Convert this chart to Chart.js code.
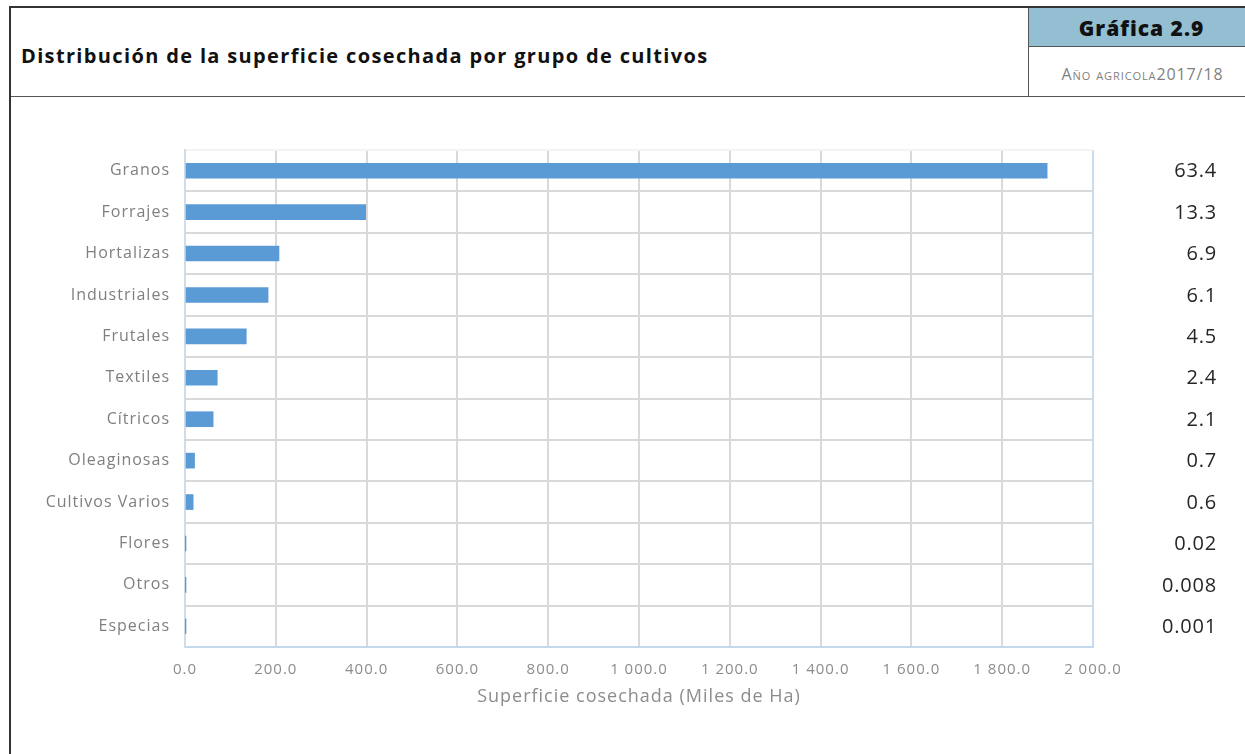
<!DOCTYPE html>
<html>
<head>
<meta charset="utf-8">
<script src="https://cdn.jsdelivr.net/npm/chart.js@4.4.0/dist/chart.umd.min.js"></script>
<style>
  html, body { margin:0; padding:0; background:#fff; }
  body { width:1245px; height:754px; position:relative; overflow:hidden; font-family:"Open Sans", sans-serif; }
  #frame { position:absolute; left:9px; top:6px; width:1236px; height:748px; border-left:2px solid #333; border-top:2px solid #333; box-sizing:border-box; }
  #hdr { position:absolute; left:11px; top:8px; width:1234px; height:88px; border-bottom:1.5px solid #555; }
  #title { position:absolute; left:10px; top:34px; font-size:20px; font-weight:700; color:#111; letter-spacing:1.35px; }
  #side { position:absolute; left:1017px; top:0; width:217px; height:88px; border-left:1.5px solid #555; }
  #badge { position:absolute; left:0; top:0; width:217px; height:39px; background:#94bfd3; border-bottom:1.5px solid #555; text-align:center; line-height:40px; font-size:21px; font-weight:800; color:#111; letter-spacing:1px; padding-left:8px; box-sizing:border-box; }
  #sub { position:absolute; left:0; top:55px; width:217px; text-align:center; font-size:16px; color:#7f7f7f; font-variant:small-caps; letter-spacing:0.9px; padding-left:10px; box-sizing:border-box; }
  #wrap { position:absolute; left:10px; top:97px; width:1235px; height:657px; }
</style>
</head>
<body>
<div id="frame"></div>
<div id="hdr">
  <div id="title">Distribución de la superficie cosechada por grupo de cultivos</div>
  <div id="side">
    <div id="badge">Gráfica 2.9</div>
    <div id="sub">Año agricola2017/18</div>
  </div>
</div>
<div id="wrap"><canvas id="c"></canvas></div>
<script>
const categories = ["Granos","Forrajes","Hortalizas","Industriales","Frutales","Textiles","Cítricos","Oleaginosas","Cultivos Varios","Flores","Otros","Especias"];
const superficie = [1899, 398, 207, 183, 135, 71, 62, 21, 18, 0.6, 0.24, 0.03];
const porcentajes = ["63.4","13.3","6.9","6.1","4.5","2.4","2.1","0.7","0.6","0.02","0.008","0.001"];
const xTicks = [0,200,400,600,800,1000,1200,1400,1600,1800,2000];

function fmt(v){
  const s = Number(v).toFixed(1);
  const [i,d] = s.split(".");
  return i.replace(/\B(?=(\d{3})+(?!\d))/g, " ") + "." + d;
}

const spacingPlugin = {
  id:'spacing',
  beforeDraw(chart){ chart.ctx.letterSpacing = '1px'; }
};

const pctPlugin = {
  id:'pct',
  afterDraw(chart){
    const ctx = chart.ctx, y = chart.scales.y;
    ctx.save();
    ctx.letterSpacing = '0.8px';
    ctx.font = '20px "Open Sans", sans-serif';
    ctx.fillStyle = '#262626';
    ctx.textAlign = 'right';
    ctx.textBaseline = 'middle';
    porcentajes.forEach((p,i)=>{
      ctx.fillText(p, 1207, y.getPixelForValue(i) + 1);
    });
    ctx.restore();
  }
};

new Chart(document.getElementById('c'), {
  type:'bar',
  data:{
    labels: categories,
    datasets:[{ data: superficie, backgroundColor:'#5b9bd5', borderWidth:0, barThickness:15 }]
  },
  plugins:[spacingPlugin, pctPlugin],
  options:{
    indexAxis:'y',
    responsive:true,
    maintainAspectRatio:false,
    animation:false,
    layout:{ padding:{ top:53, right:152, bottom:27, left:0 } },
    plugins:{ legend:{display:false}, tooltip:{enabled:false} },
    scales:{
      x:{
        min:0, max:2000,
        afterBuildTicks(axis){ axis.ticks = xTicks.map(v=>({value:v})); },
        afterFit(axis){ axis.height = 80; },
        grid:{ color:(c)=> c.index===10 ? '#c9dcee' : '#d9d9d9', lineWidth:2, drawTicks:false },
        border:{ display:true, color:'#c5d9ec', width:2 },
        ticks:{ padding:14, color:'#8c8c8c', font:{ size:15, family:'"Open Sans", sans-serif' }, callback:(v)=>fmt(v), maxRotation:0, autoSkip:false },
        title:{ display:true, text:'Superficie cosechada (Miles de Ha)', color:'#8c8c8c', font:{ size:18, family:'"Open Sans", sans-serif' }, padding:{ top:4, bottom:19 } }
      },
      y:{
        afterFit(axis){ axis.width = 175; },
        grid:{ color:(c)=> c.index===0 ? '#f3f3f3' : '#d9d9d9', lineWidth:2, drawTicks:false },
        border:{ display:true, color:'#d0dde9', width:2 },
        ticks:{ padding:15, color:'#7f7f7f', font:{ size:16, family:'"Open Sans", sans-serif' }, autoSkip:false }
      }
    }
  }
});
</script>
</body>
</html>
